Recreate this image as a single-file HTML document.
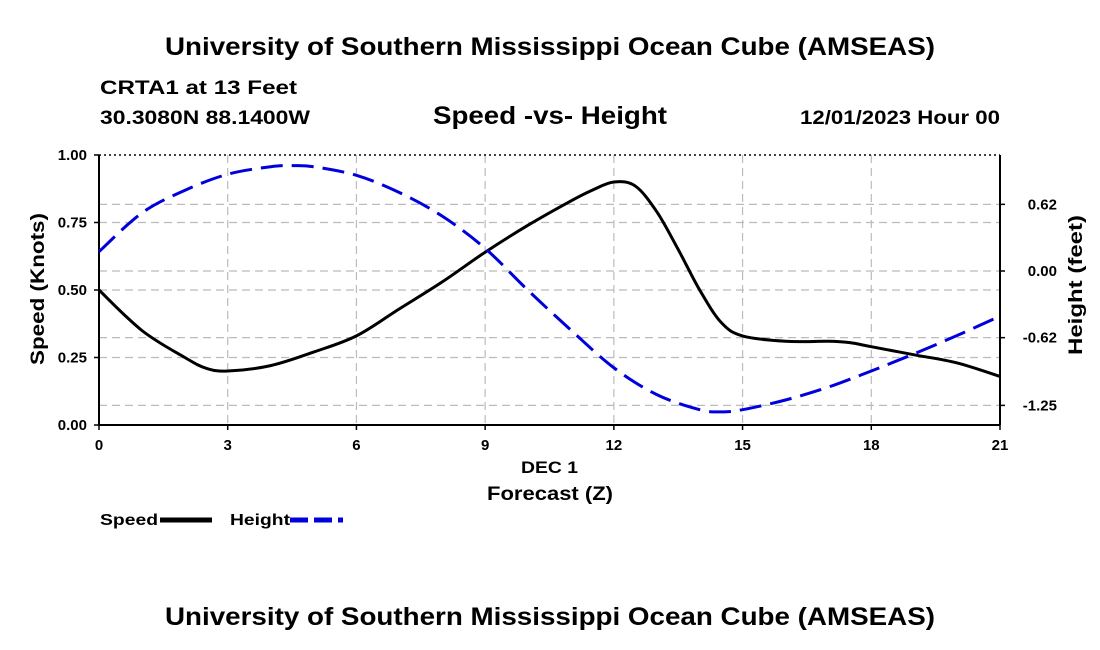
<!DOCTYPE html>
<html><head><meta charset="utf-8"><style>
html,body{margin:0;padding:0;background:#fff;}
svg{display:block;font-family:"Liberation Sans",Arial,sans-serif;}
</style></head><body>
<svg id="chart" width="1100" height="650" viewBox="0 0 1100 650">
<text x="165" y="55" font-size="25" font-weight="bold" textLength="770" lengthAdjust="spacingAndGlyphs">University of Southern Mississippi Ocean Cube (AMSEAS)</text>
<text x="100" y="94" font-size="19" font-weight="bold" textLength="197" lengthAdjust="spacingAndGlyphs">CRTA1 at 13 Feet</text>
<text x="100" y="124" font-size="19" font-weight="bold" textLength="210" lengthAdjust="spacingAndGlyphs">30.3080N  88.1400W</text>
<text x="433" y="124" font-size="25" font-weight="bold" textLength="234" lengthAdjust="spacingAndGlyphs">Speed -vs- Height</text>
<text x="800" y="124" font-size="19" font-weight="bold" textLength="200" lengthAdjust="spacingAndGlyphs">12/01/2023 Hour 00</text>
<g id="grid"></g>
<g id="axes"></g>
<g id="series"></g>
<text x="521" y="473" font-size="17" font-weight="bold" textLength="57" lengthAdjust="spacingAndGlyphs">DEC 1</text>
<text x="487" y="500" font-size="19" font-weight="bold" textLength="126" lengthAdjust="spacingAndGlyphs">Forecast (Z)</text>
<text transform="translate(44,365) rotate(-90)" font-size="19" font-weight="bold" textLength="152" lengthAdjust="spacingAndGlyphs">Speed (Knots)</text>
<text transform="translate(1082,355) rotate(-90)" font-size="19" font-weight="bold" textLength="140" lengthAdjust="spacingAndGlyphs">Height (feet)</text>
<g>
<text x="100" y="525" font-size="16" font-weight="bold" textLength="58" lengthAdjust="spacingAndGlyphs">Speed</text>
<line x1="160" y1="520" x2="212" y2="520" stroke="#000" stroke-width="5"/>
</g>
<g>
<text x="230" y="525" font-size="16" font-weight="bold" textLength="60" lengthAdjust="spacingAndGlyphs">Height</text>
<line x1="290" y1="520" x2="343" y2="520" stroke="#0000dd" stroke-width="5" stroke-dasharray="18,6"/>
</g>
<text x="165" y="625" font-size="25" font-weight="bold" textLength="770" lengthAdjust="spacingAndGlyphs">University of Southern Mississippi Ocean Cube (AMSEAS)</text>
</svg>
<script>
const speedHours=[0,1,2,2.5,3,4,5,6,7,8,9,10,11,11.5,12,12.5,13,13.5,14,14.5,15,16,17,17.5,18,19,20,21];
const speedValues=[0.50,0.35,0.25,0.21,0.20,0.22,0.27,0.33,0.43,0.53,0.64,0.74,0.83,0.87,0.90,0.885,0.79,0.65,0.50,0.38,0.33,0.31,0.31,0.305,0.29,0.26,0.23,0.18];
const heightHours=[0,1,2,3,4,4.5,5,6,7,8,9,10,11,12,13,14,14.5,15,16,17,18,19,20,21];
const heightValues=[0.18,0.54,0.75,0.90,0.97,0.98,0.97,0.89,0.73,0.51,0.21,-0.18,-0.55,-0.90,-1.15,-1.29,-1.31,-1.29,-1.20,-1.08,-0.93,-0.77,-0.60,-0.42];
const xTicks=[0,3,6,9,12,15,18,21];
const leftTicks=[0,0.25,0.5,0.75,1.0];
const leftTickLabels=["0.00","0.25","0.50","0.75","1.00"];
const rightTicks=[0.62,0,-0.62,-1.25];
const rightTickLabels=["0.62","0.00","-0.62","-1.25"];

const X0=99,X1=1000,Y0=425,Y1=155;
const xs=h=>X0+(h/21)*(X1-X0);
const ys=v=>Y0-v*(Y0-Y1);
const yr=v=>271-v*107.5;
const NS="http://www.w3.org/2000/svg";
function mk(tag,attrs,parent){const e=document.createElementNS(NS,tag);for(const k in attrs)e.setAttribute(k,attrs[k]);parent.appendChild(e);return e;}
const gridG=document.getElementById('grid'),axesG=document.getElementById('axes'),seriesG=document.getElementById('series');
const gstyle={stroke:"#bbb","stroke-width":1.2,"stroke-dasharray":"8,5",fill:"none"};
xTicks.forEach(t=>{if(t>0&&t<21){const l=mk('line',Object.assign({x1:xs(t),x2:xs(t),y1:Y1,y2:Y0},gstyle),gridG);

}});
leftTicks.forEach(t=>{if(t>0&&t<1){const l=mk('line',Object.assign({x1:X0,x2:X1,y1:ys(t),y2:ys(t)},gstyle),gridG);

}});
rightTicks.forEach(t=>{const l=mk('line',Object.assign({x1:X0,x2:X1,y1:yr(t),y2:yr(t)},gstyle),gridG);

});
const topBorder=mk('line',{x1:X0,x2:X1,y1:Y1,y2:Y1,stroke:"#000","stroke-width":1.5,"stroke-dasharray":"2,3"},axesG);


const botAxis=mk('line',{x1:X0,x2:X1,y1:Y0,y2:Y0,stroke:"#000","stroke-width":2},axesG);


const leftAxis=mk('line',{x1:X0,x2:X0,y1:Y1,y2:Y0,stroke:"#000","stroke-width":2},axesG);


const rightAxis=mk('line',{x1:X1,x2:X1,y1:Y1,y2:Y0,stroke:"#000","stroke-width":2},axesG);


xTicks.forEach(t=>{mk('line',{x1:xs(t),x2:xs(t),y1:Y0,y2:Y0+5,stroke:"#000","stroke-width":1.5},axesG);
const tx=mk('text',{x:xs(t),y:Y0+25,"text-anchor":"middle","font-size":15,"font-weight":"bold"},axesG);tx.textContent=t;

});
leftTicks.forEach((t,i)=>{mk('line',{x1:X0-5,x2:X0,y1:ys(t),y2:ys(t),stroke:"#000","stroke-width":1.5},axesG);
const tx=mk('text',{x:X0-12,y:ys(t)+5,"text-anchor":"end","font-size":15,"font-weight":"bold"},axesG);tx.textContent=leftTickLabels[i];

});
rightTicks.forEach((t,i)=>{mk('line',{x1:X1,x2:X1+5,y1:yr(t),y2:yr(t),stroke:"#000","stroke-width":1.5},axesG);
const tx=mk('text',{x:X1+57,y:yr(t)+5,"text-anchor":"end","font-size":15,"font-weight":"bold"},axesG);tx.textContent=rightTickLabels[i];

});
function smooth(pts){let d=`M${pts[0][0]},${pts[0][1]}`;for(let i=0;i<pts.length-1;i++){const p0=pts[Math.max(0,i-1)],p1=pts[i],p2=pts[i+1],p3=pts[Math.min(pts.length-1,i+2)];
const c1=[p1[0]+(p2[0]-p0[0])/6,p1[1]+(p2[1]-p0[1])/6],c2=[p2[0]-(p3[0]-p1[0])/6,p2[1]-(p3[1]-p1[1])/6];
d+=` C${c1[0]},${c1[1]} ${c2[0]},${c2[1]} ${p2[0]},${p2[1]}`;}return d;}
const speedPath=mk('path',{d:smooth(speedHours.map((h,i)=>[xs(h),ys(speedValues[i])])),stroke:"#000","stroke-width":3,fill:"none"},seriesG);


const heightPath=mk('path',{d:smooth(heightHours.map((h,i)=>[xs(h),yr(heightValues[i])])),stroke:"#0000dd","stroke-width":3,fill:"none","stroke-dasharray":"22,9"},seriesG);


</script>
</body></html>
